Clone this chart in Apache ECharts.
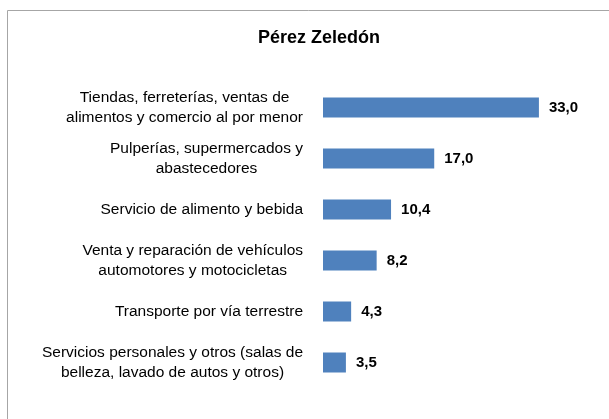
<!DOCTYPE html>
<html>
<head>
<meta charset="utf-8">
<script src="https://cdn.jsdelivr.net/npm/echarts@6/dist/echarts.min.js"></script>
<style>
  html, body { margin: 0; padding: 0; background: #fff; }
  #chart { width: 609px; height: 419px; }
</style>
</head>
<body>
<div id="chart"></div>
<script>
// categories from top to bottom
const categories = [
  "Tiendas, ferreterías, ventas de\nalimentos y comercio al por menor",
  "Pulperías, supermercados y\nabastecedores",
  "Servicio de alimento y bebida",
  "Venta y reparación de vehículos\nautomotores y motocicletas",
  "Transporte por vía terrestre",
  "Servicios personales y otros (salas de\nbelleza, lavado de autos y otros)"
];
const values = [33.0, 17.0, 10.4, 8.2, 4.3, 3.5];

const myChart = echarts.init(document.getElementById("chart"));
const font = "'Liberation Sans', Arial, sans-serif";

const option = {
  animation: false,
  title: {
    text: "Pérez Zeledón",
    left: 253,
    top: 24,
    textStyle: { fontFamily: font, fontSize: 18, fontWeight: "bold", color: "#000" }
  },
  graphic: [
    {
      type: "rect",
      shape: { x: 7.5, y: 10.5, width: 620, height: 430 },
      style: { fill: "none", stroke: "#a6a6a6", lineWidth: 1 }
    }
  ],
  grid: { left: 323, right: 57, top: 82, bottom: 31 },
  xAxis: {
    type: "value",
    min: 0,
    max: 35,
    show: false
  },
  yAxis: {
    type: "category",
    inverse: true,
    data: categories,
    axisLine: { show: false },
    axisTick: { show: false },
    axisLabel: {
      margin: 20,
      align: "right",
      // each line centred inside the right-aligned block, like the original
      formatter: (v) => v.split("\n").map((l) => "{c|" + l + "}").join("\n"),
      rich: {
        c: {
          align: "center",
          fontFamily: font,
          fontSize: 15.5,
          lineHeight: 20,
          color: "#000"
        }
      }
    }
  },
  series: [
    {
      type: "bar",
      data: values,
      barWidth: 20,
      itemStyle: { color: "#4f81bd" },
      label: {
        show: true,
        position: "right",
        distance: 10,
        fontFamily: font,
        fontSize: 15,
        fontWeight: "bold",
        color: "#000",
        formatter: (p) => p.value.toFixed(1).replace(".", ",")
      }
    }
  ]
};
myChart.setOption(option);
</script>
</body>
</html>
